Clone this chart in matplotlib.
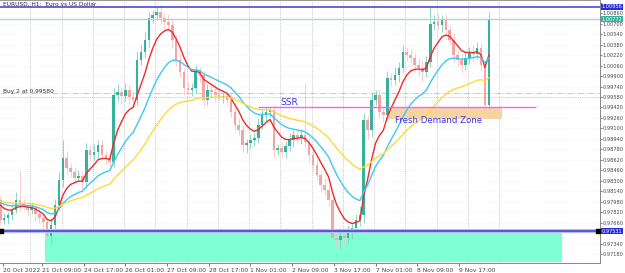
import numpy as np
import pandas as pd
import matplotlib
matplotlib.use("Agg")
import matplotlib.pyplot as plt
from matplotlib.patches import Rectangle

# EURUSD H1 chart, candles grouped by 3 hours
# x = trading-hour index counted from 20 Oct 2022 00:00 (weekends skipped)
bar_hours = np.arange(1, 377, 3)
prev_close = 0.98000

closes = [
    0.97699, 0.97730, 0.97776, 0.97852, 0.98005, 0.97944, 0.97928, 0.97852, 0.97883, 0.97791,
    0.97730, 0.97669, 0.97455, 0.97623, 0.97928, 0.98311, 0.98647, 0.98494, 0.98433, 0.98341,
    0.98372, 0.98280, 0.98770, 0.98693, 0.98739, 0.98846, 0.98693, 0.98647, 0.98586, 0.99610,
    0.99656, 0.99595, 0.99687, 0.99580, 0.99534, 1.00146, 1.00268, 1.00451, 1.00788, 1.00834,
    1.00880, 1.00788, 1.00727, 1.00681, 1.00451, 1.00146, 0.99962, 0.99718, 0.99687, 0.99718,
    0.99962, 0.99916, 0.99534, 0.99687, 0.99656, 0.99610, 0.99580, 0.99595, 0.99534, 0.99350,
    0.99152, 0.99075, 0.98846, 0.98876, 0.98922, 0.98953, 0.99152, 0.99305, 0.99350, 0.99381,
    0.98770, 0.98800, 0.98739, 0.98831, 0.98922, 0.98999, 0.98953, 0.98999, 0.98892, 0.98693,
    0.98540, 0.98387, 0.98234, 0.98158, 0.98005, 0.97424, 0.97393, 0.97455, 0.97424, 0.97516,
    0.97577, 0.97699, 0.97776, 0.99228, 0.99075, 0.99534, 0.99610, 0.99350, 0.99305, 0.99870,
    0.99840, 0.99916, 1.00023, 1.00268, 1.00222, 1.00176, 1.00069, 1.00023, 0.99962, 1.00115,
    1.00696, 1.00727, 1.00681, 1.00757, 1.00604, 1.00451, 1.00222, 1.00146, 1.00069, 1.00176,
    1.00268, 1.00237, 1.00329, 1.00069, 0.99457, 1.00772,
]

# wick lengths in pips
wick_up = [
    6, 8, 5, 10, 12, 46, 8, 6, 9, 5,
    7, 6, 8, 10, 9, 12, 28, 10, 8, 7,
    9, 6, 10, 8, 12, 7, 9, 6, 8, 10,
    12, 8, 10, 7, 9, 14, 10, 12, 9, 8,
    8, 10, 7, 12, 9, 8, 10, 6, 9, 7,
    10, 8, 6, 9, 7, 8, 10, 6, 8, 9,
    7, 10, 8, 6, 9, 8, 10, 7, 9, 5,
    8, 6, 9, 7, 10, 8, 6, 9, 80, 8,
    7, 9, 6, 10, 8, 7, 9, 12, 8, 10,
    7, 9, 14, 10, 8, 12, 7, 9, 8, 10,
    8, 12, 9, 10, 7, 9, 8, 10, 12, 9,
    26, 10, 12, 8, 9, 7, 10, 8, 9, 11,
    8, 10, 9, 7, 6, 11,
]
wick_dn = [
    8, 6, 9, 7, 5, 10, 8, 9, 6, 10,
    8, 9, 9, 12, 7, 8, 10, 9, 7, 8,
    6, 10, 9, 7, 8, 10, 6, 9, 8, 7,
    9, 12, 8, 10, 11, 8, 7, 9, 10, 8,
    6, 9, 10, 8, 12, 9, 8, 10, 7, 9,
    8, 10, 9, 7, 8, 10, 6, 9, 8, 7,
    9, 8, 10, 12, 7, 9, 8, 6, 9, 8,
    10, 8, 7, 9, 8, 10, 7, 9, 8, 10,
    9, 8, 10, 7, 9, 12, 10, 14, 9, 8,
    10, 8, 9, 12, 14, 10, 8, 9, 11, 7,
    9, 8, 10, 7, 9, 8, 10, 12, 14, 8,
    7, 9, 8, 10, 9, 8, 10, 9, 12, 8,
    9, 10, 8, 9, 11, 6,
]

tick_hours = [3, 33, 65, 97, 129, 161, 193, 225, 257, 289, 321, 353]
tick_labels = ["20 Oct 2022", "21 Oct 09:00", "24 Oct 17:00", "26 Oct 01:00",
               "27 Oct 09:00", "28 Oct 17:00", "1 Nov 01:00", "2 Nov 09:00",
               "3 Nov 17:00", "7 Nov 01:00", "8 Nov 09:00", "9 Nov 17:00"]
day_hours = np.arange(24, 385, 24)
price_ticks = np.round(np.arange(0.97180, 1.01030, 0.0016), 5)

ma_spans = [7, 17, 38]
ma_colors = ["#f02a2a", "#3ec8f4", "#ffd93a"]

# drawn levels / zones
top_line = 1.00956
bid_line = 1.00772
buy_price = 0.99580
order_line = 0.99641
bottom_line = 0.97531
ssr_level = 0.99427
ssr_from, ssr_to = 198.5, 412.3
zone_x = (298.0, 386.1)
zone_y = (0.99244, 0.99427)
support_x = (35.3, 432.2)
support_y = (0.97057, 0.97531)

# ---- candles
c = np.array(closes)
o = np.array([prev_close] + closes[:-1])
hi = np.maximum(o, c) + np.array(wick_up) * 0.0001
lo = np.minimum(o, c) - np.array(wick_dn) * 0.0001
up = c >= o

fig = plt.figure(figsize=(6.25, 2.73), dpi=100)
ax = fig.add_axes([0, 10 / 273, 600 / 625, 263 / 273])
ax.set_facecolor("white")

for h in day_hours:
    ax.axvline(h, color="#b5b5b5", ls=(0, (1, 1.5)), lw=0.6, zorder=0.5)
for p in price_ticks:
    ax.axhline(p, color="#eeeeee", ls=(0, (1, 2)), lw=0.5, zorder=0.4)

ax.add_patch(Rectangle((support_x[0], support_y[0]), support_x[1] - support_x[0],
                       support_y[1] - support_y[0], fc="#7fffd4", ec="none", zorder=0.8))
ax.add_patch(Rectangle((zone_x[0], zone_y[0]), zone_x[1] - zone_x[0],
                       zone_y[1] - zone_y[0], fc="#f6d4a2", ec="none", zorder=0.8))

up_col, dn_col = "#36b29c", "#f5a3a3"
ax.vlines(bar_hours[up], lo[up], hi[up], color="#7fd0c0", lw=0.6, zorder=2)
ax.vlines(bar_hours[~up], lo[~up], hi[~up], color="#f8c4c4", lw=0.6, zorder=2)
body = np.maximum(np.abs(c - o), 0.00006)
ax.bar(bar_hours, body, bottom=np.minimum(o, c), width=2.0,
       color=np.where(up, up_col, dn_col), zorder=2.2)

# moving averages
s = pd.Series([prev_close] + closes)
for sp, col in zip(ma_spans, ma_colors):
    ema = s.ewm(span=sp, adjust=False).mean().values[1:]
    ax.plot(bar_hours, ema, color=col, lw=1.0, zorder=3)

# horizontal lines
ax.axhline(top_line, color="#3a3ad2", lw=1.1, zorder=3.5)
ax.axhline(bid_line, color="#a6d9cc", lw=1.0, zorder=3.5)
ax.axhline(order_line, color="#f4b6b6", lw=0.7, ls="-.", zorder=1)
ax.axhline(buy_price, color="#a9d8e8", lw=0.7, ls=(0, (1, 1)), zorder=1)
ax.axhline(bottom_line, color="#b8bdf5", lw=3.0, zorder=3.4)
ax.axhline(bottom_line, color="#3a3ad2", lw=1.1, zorder=3.5)
ax.plot([1.5, 459.5], [bottom_line, bottom_line], "s", color="black", ms=2.2,
        zorder=4, clip_on=False)
ax.hlines(ssr_level, ssr_from, ssr_to, color="#ff5cff", lw=1.0, zorder=3.6)

# texts
ax.text(216, 0.99503, "SSR", color="#3535f0", fontsize=6.5, va="center", ha="left")
ax.text(304, 0.99228, "Fresh Demand Zone", color="#3535f0", fontsize=6.2,
        va="center", ha="left", zorder=4)
ax.text(0.005, 0.985, "EURUSD, H1:  Euro vs US Dollar", transform=ax.transAxes,
        fontsize=4.2, color="#303030", va="center", ha="left")
ax.text(3, 0.99660, "Buy 2 at 0.99580", fontsize=4.2, color="#303030",
        va="center", ha="left", zorder=4)

# axes / ticks
ax.set_xlim(0.78, 461.3)
ax.set_ylim(0.97042, 1.01063)
ax.yaxis.tick_right()
ax.set_yticks(price_ticks)
boxed = [top_line, bid_line, bottom_line]
ax.set_yticklabels(["" if min(abs(p - b) for b in boxed) < 0.0007 else f"{p:.5f}"
                    for p in price_ticks])
ax.set_xticks(tick_hours)
ax.set_xticklabels(tick_labels)
for lab in ax.get_xticklabels():
    lab.set_horizontalalignment("left")
ax.tick_params(axis="x", labelsize=4.3, length=2, width=0.5, colors="#444444", pad=1.5)
ax.tick_params(axis="y", labelsize=3.6, length=1.5, width=0.5, colors="#444444", pad=0.6)

ax.spines["left"].set_visible(False)
ax.spines["top"].set_color("#999999")
ax.spines["top"].set_linewidth(1.5)
for side in ["right", "bottom"]:
    ax.spines[side].set_color("#888888")
    ax.spines[side].set_linewidth(0.7)


def price_box(y, fc, tc):
    ax.text(1.003, y, f"{y:.5f}", transform=ax.get_yaxis_transform(), fontsize=3.6,
            color=tc, va="center", ha="left", clip_on=False, zorder=6,
            bbox=dict(boxstyle="square,pad=0.15", fc=fc, ec="none"))


price_box(top_line, "#2a2ae0", "white")
price_box(bid_line, "#36b29c", "white")
price_box(bottom_line, "#2a2ae0", "white")

fig.savefig("out.png", dpi=100)
